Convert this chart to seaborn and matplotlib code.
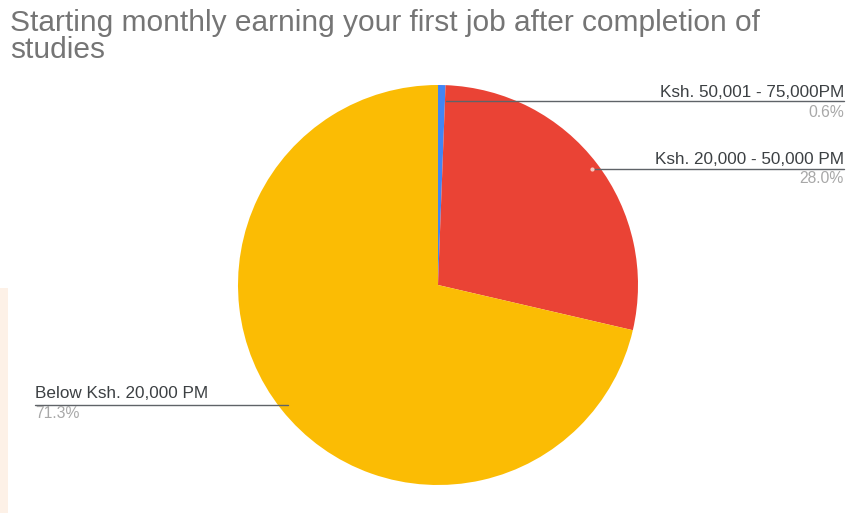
import matplotlib
matplotlib.use("Agg")
import matplotlib.pyplot as plt
from matplotlib.patches import Rectangle
import seaborn as sns

# Survey results: starting monthly earnings at first job
categories = ["Ksh. 50,001 - 75,000PM", "Ksh. 20,000 - 50,000 PM", "Below Ksh. 20,000 PM"]
shares = [0.6, 28.0, 71.3]
pct_labels = ["0.6%", "28.0%", "71.3%"]
title_lines = ["Starting monthly earning your first job after completion of", "studies"]

sns.set_theme(style="white")
plt.rcParams["font.family"] = ["Liberation Sans", "DejaVu Sans"]
colors = sns.color_palette(["#4285f4", "#ea4335", "#fbbc04"])

W, H = 856, 513
fig = plt.figure(figsize=(W / 100, H / 100), dpi=100)
ax = fig.add_axes([0, 0, 1, 1])


def y(p):
    # pixel rows counted from the top edge
    return H - p


# faint peach strip along the lower left border
ax.add_patch(Rectangle((0, 0), 8, H - 288, color="#fdf1e7", lw=0, zorder=0))

cx, cy, r = 438, y(285), 200
ax.pie(shares, colors=colors, startangle=90, counterclock=False,
       center=(cx, cy), radius=r, frame=True,
       wedgeprops=dict(linewidth=0))
ax.set_xlim(0, W)
ax.set_ylim(0, H)
ax.set_axis_off()

line_col = "#5f6368"
label_col = "#3c4043"
pct_col = "#a8a8a8"
fs_lab = 12.3
fs_pct = 11.3

# top-right labels
ax.plot([446, 844], [y(101), y(101)], color=line_col, lw=1)
ax.text(844, y(97), categories[0], ha="right", va="baseline", fontsize=fs_lab, color=label_col)
ax.text(844, y(117), pct_labels[0], ha="right", va="baseline", fontsize=fs_pct, color=pct_col)

ax.plot([592, 844], [y(169), y(169)], color=line_col, lw=1)
ax.plot([592], [y(169)], marker="o", ms=2, color="#f8c8c0")
ax.text(844, y(164), categories[1], ha="right", va="baseline", fontsize=fs_lab, color=label_col)
ax.text(844, y(183), pct_labels[1], ha="right", va="baseline", fontsize=fs_pct, color=pct_col)

# left label
ax.plot([35, 288], [y(405), y(405)], color=line_col, lw=1)
ax.text(35, y(398), categories[2], ha="left", va="baseline", fontsize=fs_lab, color=label_col)
ax.text(35, y(418), pct_labels[2], ha="left", va="baseline", fontsize=fs_pct, color=pct_col)

# two-line title
ax.text(10, y(31), title_lines[0], ha="left", va="baseline", fontsize=21.5, color="#757575")
ax.text(10, y(58), title_lines[1], ha="left", va="baseline", fontsize=21.5, color="#757575")

fig.savefig("out.png", dpi=100)
